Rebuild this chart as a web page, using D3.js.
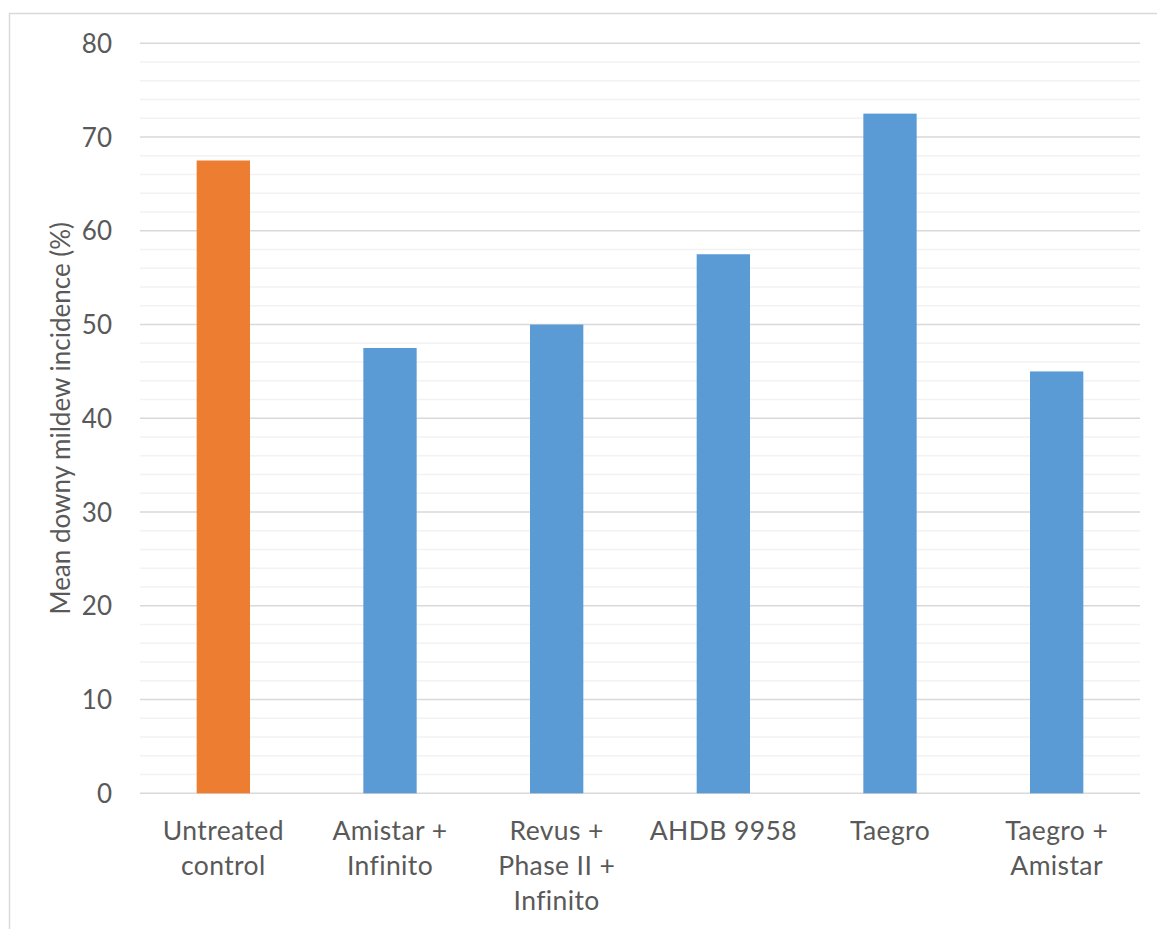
<!DOCTYPE html>
<html>
<head>
<meta charset="utf-8">
<script src="https://cdn.jsdelivr.net/npm/d3@7"></script>
<style>
  html, body { margin: 0; padding: 0; background: #fff; }
  svg { display: block; }
  text { font-family: Lato, "Open Sans", sans-serif; fill: #595959; font-variant-ligatures: none; }
</style>
</head>
<body>
<script>
const categories = [
  ["Untreated", "control"],
  ["Amistar +", "Infinito"],
  ["Revus +", "Phase II +", "Infinito"],
  ["AHDB 9958"],
  ["Taegro"],
  ["Taegro +", "Amistar"]
];
const values = [67.5, 47.5, 50, 57.5, 72.5, 45];
const barColors = ["#ED7D31", "#5B9BD5", "#5B9BD5", "#5B9BD5", "#5B9BD5", "#5B9BD5"];
const majorTicks = [0, 10, 20, 30, 40, 50, 60, 70, 80];
const minorTicks = d3.range(0, 81, 2);
const yTitle = "Mean downy mildew incidence (%)";

const W = 1157, H = 929;
const pLeft = 140, pRight = 1140, pTop = 43.3, pBottom = 793.3;

const svg = d3.select("body").append("svg").attr("width", W).attr("height", H);

// chart border
svg.append("path")
  .attr("d", `M9.5,${H} V13.5 H${W}`)
  .attr("fill", "none").attr("stroke", "#d9d9d9").attr("stroke-width", 1.5);

const x = d3.scaleBand().domain(d3.range(categories.length)).range([pLeft, pRight]).paddingInner(0.68).paddingOuter(0.34);
const y = d3.scaleLinear().domain([0, 80]).range([pBottom, pTop]);

// minor grid
svg.append("g").selectAll("line").data(minorTicks.filter(d => d % 10 !== 0)).join("line")
  .attr("x1", pLeft).attr("x2", pRight)
  .attr("y1", d => y(d)).attr("y2", d => y(d))
  .attr("stroke", "#f2f2f2").attr("stroke-width", 1.5);

// major grid
svg.append("g").selectAll("line").data(majorTicks).join("line")
  .attr("x1", pLeft).attr("x2", pRight)
  .attr("y1", d => y(d)).attr("y2", d => y(d))
  .attr("stroke", "#d9d9d9").attr("stroke-width", 1.5);

// bars
svg.append("g").selectAll("rect").data(values).join("rect")
  .attr("x", (d, i) => x(i))
  .attr("width", x.bandwidth())
  .attr("y", d => y(d))
  .attr("height", d => y(0) - y(d))
  .attr("fill", (d, i) => barColors[i]);

// y tick labels
svg.append("g").selectAll("text").data(majorTicks).join("text")
  .attr("x", 112).attr("y", d => y(d) + 9.5)
  .attr("text-anchor", "end")
  .attr("font-size", 26)
  .text(d => d);

// category labels
const catG = svg.append("g").selectAll("text").data(categories).join("text")
  .attr("text-anchor", "middle")
  .attr("font-size", 26.5)
  .attr("letter-spacing", 0.4)
  .attr("transform", (d, i) => `translate(${x(i) + x.bandwidth() / 2},840)`);
catG.selectAll("tspan").data(d => d).join("tspan")
  .attr("x", 0).attr("y", (d, j) => j * 35)
  .text(d => d);

// y title
svg.append("text")
  .attr("transform", `translate(70,${(pTop + pBottom) / 2}) rotate(-90)`)
  .attr("text-anchor", "middle")
  .attr("font-size", 26)
  .text(yTitle);
</script>
</body>
</html>
